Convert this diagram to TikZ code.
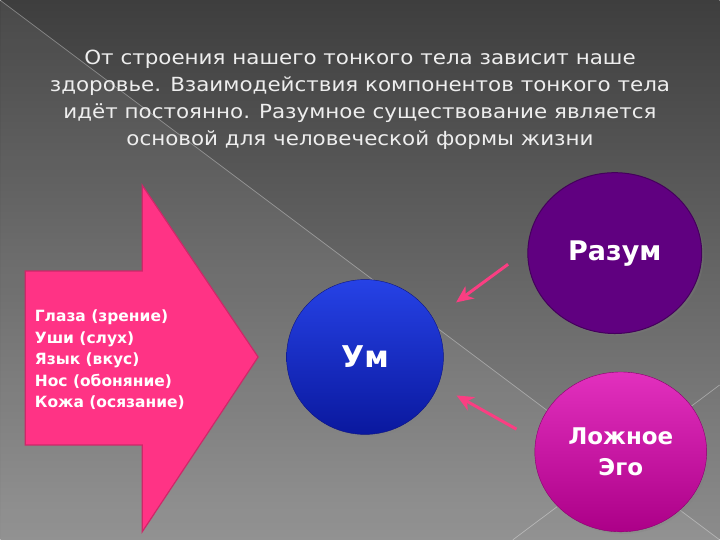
\documentclass[tikz,border=0pt]{standalone}
\usepackage{fontspec}
\setmainfont{DejaVu Sans}
\newfontfamily\titlefont{DejaVu Sans}[FakeStretch=1.1]
\usetikzlibrary{shapes.geometric,arrows.meta,shadows}

\definecolor{bgtop}{RGB}{62,62,62}
\definecolor{bgbot}{RGB}{140,140,140}
\definecolor{titlecol}{RGB}{238,238,238}
\definecolor{bigpink}{RGB}{255,51,133}
\definecolor{bigpinkline}{RGB}{205,40,105}
\definecolor{umtop}{RGB}{38,66,230}
\definecolor{umbot}{RGB}{10,24,158}
\definecolor{umline}{RGB}{12,20,130}
\definecolor{razumfill}{RGB}{96,0,128}
\definecolor{razumline}{RGB}{68,0,92}
\definecolor{egotop}{RGB}{226,48,190}
\definecolor{egobot}{RGB}{172,0,136}
\definecolor{egoline}{RGB}{140,0,110}
\definecolor{arrowpink}{RGB}{250,62,130}

\tikzset{
  ball/.style={ellipse, text=white, align=center, inner sep=0pt,
    drop shadow={shadow xshift=2pt, shadow yshift=-2pt, opacity=0.25}},
  pinkarrow/.style={draw=arrowpink, line width=3pt,
    -{Stealth[length=17pt,width=15pt,inset=5pt]}},
}

\begin{document}
\begin{tikzpicture}[x=1pt,y=1pt]
  % фон слайда
  \shade[top color=bgtop, bottom color=bgbot] (0,0) rectangle (720,540);
  \fill[white, opacity=0.06] (0,540) -- (720,0) -- (0,0) -- cycle;
  \draw[white, opacity=0.35, line width=0.7pt] (0,540) -- (720,0);
  \draw[white, opacity=0.35, line width=0.7pt] (513,0) -- (720,155);
  \useasboundingbox (0,0) rectangle (720,540);
  % заголовок
  \node[text=titlecol, font=\titlefont\fontsize{19.5}{27}\selectfont, align=center] (title) at (360,440)
    {От строения нашего тонкого тела зависит наше\\
     здоровье. Взаимодействия компонентов тонкого тела\\
     идёт постоянно. Разумное существование является\\
     основой для человеческой формы жизни};
  % большая стрелка
  \filldraw[fill=bigpink, draw=bigpinkline, line width=1.2pt]
    (25,95) -- (25,269) -- (142,269) -- (142,355) -- (258,183)
    -- (142,8) -- (142,95) -- cycle;
  \node[anchor=west, text=white, font=\fontsize{15.5}{21.5}\selectfont\bfseries, align=left] (senses) at (31,180)
    {Глаза (зрение)\\ Уши (слух)\\ Язык (вкус)\\ Нос (обоняние)\\ Кожа (осязание)};
  % круги
  \node[ball, minimum width=157pt, minimum height=155pt, top color=umtop, bottom color=umbot,
    draw=umline, font=\fontsize{30}{36}\selectfont\bfseries] (um) at (365,183) {Ум};
  \node[ball, minimum width=174pt, minimum height=161pt, fill=razumfill,
    draw=razumline, line width=1pt, font=\fontsize{27}{32}\selectfont\bfseries] (razum) at (615,287) {Разум};
  \node[ball, minimum width=172pt, minimum height=160pt, top color=egotop, bottom color=egobot,
    draw=egoline, font=\fontsize{23}{31}\selectfont\bfseries] (ego) at (621,88) {Ложное\\Эго};
  % стрелки к уму
  \draw[pinkarrow, shorten <=24pt, shorten >=28pt] (razum.178) -- (um.29);
  \draw[pinkarrow, shorten <=22pt, shorten >=21pt] (ego.172) -- (um.-21);
\end{tikzpicture}
\end{document}
